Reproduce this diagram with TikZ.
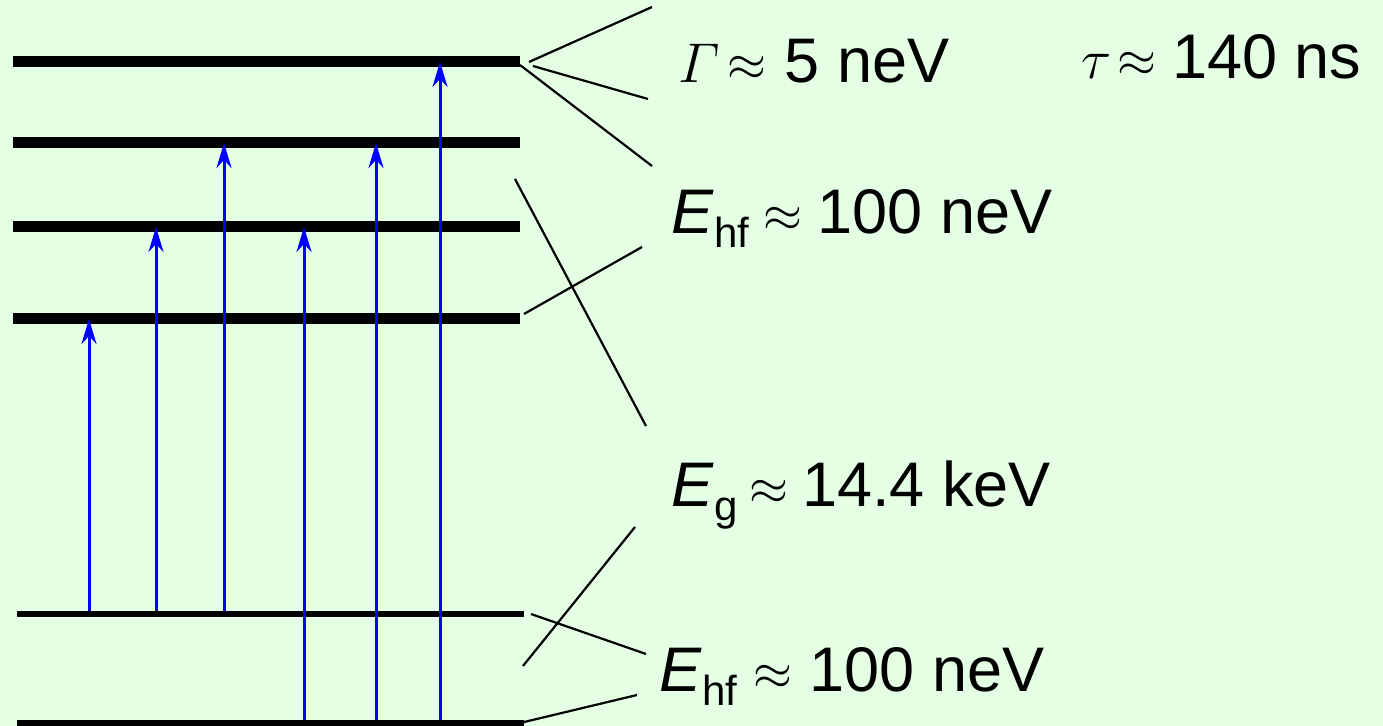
\RequirePackage{fix-cm}
\documentclass[tikz,border=0pt]{standalone}
\usepackage{fontspec}
\setmainfont{Liberation Sans}
\definecolor{BgGreen}{RGB}{229,255,229}
\definecolor{ArrowBlue}{RGB}{0,0,255}
\usetikzlibrary{arrows.meta}
\newcommand{\lvlsub}[1]{\raisebox{-7pt}{\fontsize{21}{21}\selectfont #1}}
\newcommand{\apx}{\raisebox{1pt}{\fontsize{25}{25}\selectfont$\approx$}}
\newcommand{\mathsym}[1]{{\fontsize{28}{30}\selectfont$#1$}}

\begin{document}
\begin{tikzpicture}[x=0.5pt, y=-0.5pt,
      every node/.style={font=\fontsize{31.5}{36}\selectfont, inner sep=0pt, anchor=base west},
      upper/.style={line width=5.5pt},
      lower/.style={line width=2.6pt},
      fan/.style={line width=1.1pt},
      trans/.style={-{Stealth[length=12.5pt, width=7.5pt, inset=4pt]}, draw=ArrowBlue,
                    line width=1.5pt, shorten <=1.5pt}
  ]
    \fill[BgGreen] (0,0) rectangle (1383,726);
    \useasboundingbox (0,0) rectangle (1383,726);
    % excited levels
    \foreach \n/\y in {a/62, b/143, c/227, d/319} {
      \coordinate (e\n) at (13,\y);
      \draw[upper] (e\n) -- ++(507,0) coordinate (e\n R);
    }
    % ground levels
    \foreach \n/\y in {a/614, b/723} {
      \coordinate (g\n) at (17,\y);
      \draw[lower] (g\n) -- ++(507,0) coordinate (g\n R);
    }
    % transitions
    \foreach \x/\from/\to in {89/ga/ed, 156/ga/ec, 224/ga/eb, 304/gb/ec, 376/gb/eb, 440/gb/ea} {
      \draw[trans] (\x,0 |- \from) -- (\x,0 |- \to);
    }
    % splitting lines
    \coordinate (f1a) at (529,62);  \coordinate (f1b) at (652,7);
    \coordinate (f2a) at (533,66);  \coordinate (f2b) at (648,99);
    \coordinate (f3a) at (520,65);  \coordinate (f3b) at (652,166);
    \coordinate (f4a) at (515,179); \coordinate (f4b) at (646,426);
    \coordinate (f5a) at (524,314); \coordinate (f5b) at (642,247);
    \coordinate (f6a) at (523,666); \coordinate (f6b) at (635,527);
    \coordinate (f7a) at (531,614); \coordinate (f7b) at (646,654);
    \coordinate (f8a) at (520,723); \coordinate (f8b) at (637,695);
    \foreach \i in {1,...,8} {
      \draw[fan] (f\i a) -- (f\i b);
    }
    % labels
    \node (width) at (678,83) {\mathsym{\mathnormal{\Gamma}}\hspace{4pt}\apx\hspace{9pt}5 neV};
    \node (life) at (1081,79) {\mathsym{\tau}\hspace{3pt}\apx\hspace{8pt}140 ns};
    \node (hfup) at (671,234) {\textit{E}\lvlsub{hf}\hspace{7pt}\apx\hspace{8pt}100 neV};
    \node (gap) at (671,507) {\textit{E}\lvlsub{g}\hspace{6pt}\apx\hspace{7pt}14.4 keV};
    \node (hflow) at (659,692) {\textit{E}\lvlsub{hf}\hspace{8pt}\apx\hspace{9pt}100 neV};
  \end{tikzpicture}
\end{document}
